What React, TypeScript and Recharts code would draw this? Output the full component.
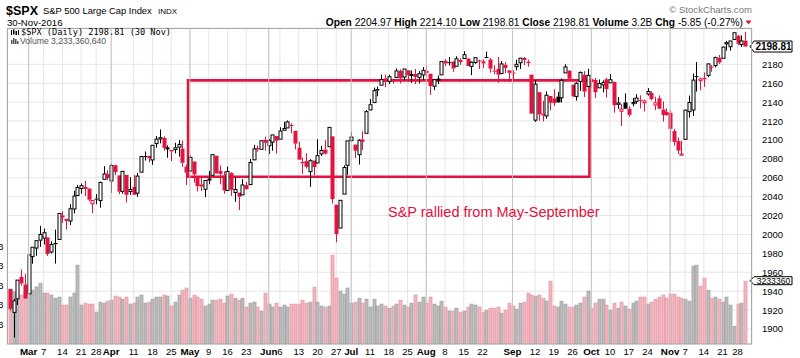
import React from "react";
import {
  ComposedChart,
  Bar,
  XAxis,
  YAxis,
  CartesianGrid,
  ReferenceLine,
  ReferenceArea,
} from "recharts";

// trading days per month, Feb..Nov 2016
const MONTH_DAYS = [
  [23, 24, 25, 26, 29],
  [1, 2, 3, 4, 7, 8, 9, 10, 11, 14, 15, 16, 17, 18, 21, 22, 23, 24, 28, 29, 30, 31],
  [1, 4, 5, 6, 7, 8, 11, 12, 13, 14, 15, 18, 19, 20, 21, 22, 25, 26, 27, 28, 29],
  [2, 3, 4, 5, 6, 9, 10, 11, 12, 13, 16, 17, 18, 19, 20, 23, 24, 25, 26, 27, 31],
  [1, 2, 3, 6, 7, 8, 9, 10, 13, 14, 15, 16, 17, 20, 21, 22, 23, 24, 27, 28, 29, 30],
  [1, 5, 6, 7, 8, 11, 12, 13, 14, 15, 18, 19, 20, 21, 22, 25, 26, 27, 28, 29],
  [1, 2, 3, 4, 5, 8, 9, 10, 11, 12, 15, 16, 17, 18, 19, 22, 23, 24, 25, 26, 29, 30, 31],
  [1, 2, 6, 7, 8, 9, 12, 13, 14, 15, 16, 19, 20, 21, 22, 23, 26, 27, 28, 29, 30],
  [3, 4, 5, 6, 7, 10, 11, 12, 13, 14, 17, 18, 19, 20, 21, 24, 25, 26, 27, 28, 31],
  [1, 2, 3, 4, 7, 8, 9, 10, 11, 14, 15, 16, 17, 18, 21, 22, 23, 25, 28, 29, 30],
];

const OPEN = [
  1942.4, 1917.6, 1931.9, 1955.0, 1947.1,
  1937.1, 1976.6, 1985.6, 1994.0, 1996.1, 1996.9, 1981.4, 1991.0, 1994.7, 2019.3, 2015.3, 2014.2, 2026.9, 2041.2, 2048.6, 2048.6, 2048.6, 2032.5, 2037.9, 2035.8, 2058.3, 2063.8,
  2056.6, 2073.2, 2062.5, 2045.6, 2063.0, 2045.5, 2050.2, 2043.7, 2065.9, 2082.9, 2083.1, 2078.8, 2096.1, 2101.0, 2102.1, 2091.5, 2089.4, 2089.8, 2092.3, 2090.9, 2071.8,
  2067.2, 2077.2, 2060.3, 2052.9, 2047.8, 2057.6, 2062.6, 2083.3, 2067.2, 2062.5, 2046.5, 2065.0, 2044.4, 2044.2, 2041.9, 2052.2, 2052.7, 2078.9, 2091.4, 2090.1, 2100.1,
  2093.9, 2097.7, 2104.1, 2100.8, 2110.2, 2112.7, 2115.7, 2109.6, 2091.8, 2076.7, 2077.6, 2066.4, 2078.2, 2075.6, 2085.2, 2089.8, 2092.8, 2103.8, 2031.5, 2006.7, 2042.7, 2073.2,
  2099.3, 2095.1, 2084.4, 2100.4, 2107.0, 2131.7, 2139.5, 2153.8, 2157.9, 2165.1, 2162.0, 2163.8, 2166.1, 2172.9, 2166.5, 2173.7, 2169.0, 2169.8, 2166.1, 2168.8,
  2173.2, 2169.9, 2156.8, 2163.5, 2168.8, 2183.8, 2182.2, 2182.8, 2178.0, 2183.7, 2186.1, 2186.2, 2177.8, 2181.9, 2184.2, 2181.6, 2187.8, 2185.1, 2173.3, 2175.1, 2170.2, 2179.5, 2173.6,
  2171.3, 2177.5, 2181.6, 2185.2, 2182.8, 2169.1, 2120.9, 2150.5, 2127.9, 2125.4, 2146.5, 2144.0, 2145.9, 2144.6, 2170.9, 2173.3, 2158.5, 2146.0, 2161.9, 2168.9, 2156.5,
  2164.3, 2163.4, 2155.1, 2158.2, 2164.2, 2160.4, 2161.4, 2137.7, 2130.3, 2139.7, 2133.0, 2138.3, 2140.8, 2142.5, 2139.4, 2148.5, 2149.7, 2137.0, 2144.1, 2132.2, 2129.8,
  2128.7, 2109.4, 2098.8, 2083.8, 2100.6, 2129.9, 2131.6, 2167.5, 2162.7, 2165.6, 2168.3, 2177.5, 2178.6, 2186.9, 2186.4, 2201.6, 2198.6, 2206.3, 2210.2, 2200.8, 2205.0,
];

const HIGH = [
  1942.4, 1932.1, 1951.8, 1963.0, 1958.3,
  1978.4, 1986.5, 1993.7, 2009.1, 2006.1, 1996.9, 1992.7, 2005.1, 2022.4, 2024.6, 2015.9, 2032.0, 2046.2, 2052.4, 2053.9, 2056.6, 2048.6, 2036.0, 2042.7, 2055.9, 2072.2, 2067.9,
  2075.1, 2074.0, 2062.5, 2067.3, 2063.0, 2060.6, 2062.9, 2065.1, 2083.2, 2087.8, 2083.2, 2094.7, 2104.1, 2111.1, 2103.8, 2094.3, 2089.4, 2096.9, 2099.9, 2099.3, 2073.9,
  2083.4, 2077.2, 2060.3, 2060.2, 2057.7, 2067.0, 2084.9, 2083.3, 2073.0, 2066.8, 2071.9, 2065.7, 2060.6, 2044.2, 2058.4, 2055.6, 2079.7, 2094.7, 2094.0, 2099.1, 2103.5,
  2101.0, 2105.3, 2104.1, 2113.4, 2119.2, 2120.6, 2117.6, 2109.6, 2098.1, 2081.3, 2085.7, 2079.6, 2078.2, 2100.7, 2093.7, 2099.7, 2113.3, 2103.8, 2031.5, 2036.1, 2073.1, 2098.9,
  2108.7, 2095.1, 2100.7, 2109.1, 2131.7, 2143.2, 2155.4, 2156.5, 2169.1, 2169.1, 2169.0, 2164.6, 2175.6, 2174.6, 2175.1, 2173.7, 2173.5, 2175.0, 2172.9, 2177.1,
  2178.3, 2170.2, 2163.8, 2168.2, 2182.9, 2185.4, 2187.7, 2183.4, 2188.5, 2186.3, 2193.8, 2186.2, 2183.1, 2187.0, 2185.0, 2185.2, 2193.4, 2186.7, 2179.0, 2187.9, 2183.5, 2182.3, 2173.8,
  2173.6, 2184.9, 2186.6, 2187.9, 2184.9, 2169.1, 2163.3, 2150.5, 2141.3, 2151.3, 2146.5, 2153.6, 2150.8, 2165.1, 2180.0, 2173.8, 2158.5, 2161.1, 2172.4, 2172.7, 2175.3,
  2164.4, 2165.5, 2164.0, 2162.9, 2165.9, 2169.6, 2161.6, 2145.4, 2138.2, 2149.2, 2135.6, 2144.4, 2148.4, 2147.2, 2142.6, 2154.8, 2151.4, 2145.7, 2147.1, 2140.7, 2133.3,
  2131.5, 2111.8, 2102.6, 2099.1, 2132.0, 2146.9, 2170.1, 2182.3, 2165.9, 2171.4, 2180.8, 2179.2, 2188.1, 2189.9, 2198.7, 2204.8, 2204.7, 2213.4, 2211.1, 2210.5, 2214.1,
];

const LOW = [
  1919.4, 1891.0, 1925.4, 1945.8, 1931.8,
  1937.1, 1969.0, 1977.4, 1986.8, 1989.4, 1977.4, 1979.8, 1969.2, 1994.7, 2012.1, 2005.2, 2010.0, 2022.2, 2041.2, 2043.1, 2040.6, 2034.9, 2022.5, 2032.0, 2028.3, 2058.3, 2057.5,
  2044.0, 2062.6, 2042.6, 2043.1, 2033.8, 2041.7, 2041.9, 2039.7, 2065.9, 2078.1, 2076.3, 2073.7, 2091.7, 2096.3, 2088.5, 2081.2, 2077.5, 2085.8, 2082.3, 2071.6, 2052.3,
  2066.1, 2054.9, 2045.6, 2045.8, 2039.5, 2053.1, 2062.6, 2064.5, 2053.1, 2043.1, 2046.5, 2040.8, 2034.5, 2025.9, 2041.9, 2047.3, 2052.7, 2078.9, 2087.6, 2090.1, 2088.7,
  2085.1, 2088.6, 2085.4, 2100.8, 2110.2, 2112.7, 2107.0, 2090.0, 2079.1, 2064.1, 2069.8, 2050.4, 2062.8, 2075.6, 2083.0, 2084.4, 2092.8, 2032.6, 1991.7, 2006.7, 2042.7, 2063.1,
  2097.9, 2080.9, 2074.0, 2089.4, 2107.0, 2131.7, 2139.5, 2146.2, 2157.9, 2155.8, 2159.1, 2159.6, 2166.1, 2159.8, 2163.2, 2161.1, 2160.2, 2159.1, 2159.7, 2163.5,
  2166.2, 2147.6, 2152.7, 2159.1, 2168.8, 2178.1, 2178.6, 2172.0, 2178.0, 2179.4, 2186.1, 2178.1, 2168.5, 2180.5, 2175.1, 2176.0, 2186.8, 2171.3, 2169.7, 2160.4, 2170.2, 2170.4, 2161.4,
  2161.1, 2173.6, 2175.1, 2179.1, 2177.5, 2127.8, 2119.1, 2120.3, 2119.6, 2122.4, 2131.2, 2135.9, 2139.2, 2139.6, 2170.9, 2164.0, 2145.0, 2141.6, 2151.8, 2145.2, 2156.5,
  2154.8, 2144.0, 2155.1, 2150.3, 2144.9, 2160.4, 2128.8, 2132.8, 2114.7, 2133.0, 2124.4, 2135.5, 2138.2, 2133.4, 2130.1, 2146.9, 2141.9, 2131.6, 2132.5, 2119.4, 2125.5,
  2097.9, 2094.0, 2085.2, 2083.8, 2100.6, 2123.6, 2125.4, 2151.2, 2152.5, 2156.1, 2166.4, 2172.2, 2176.7, 2180.4, 2186.4, 2194.5, 2194.5, 2206.3, 2200.4, 2198.2, 2198.8,
];

const CLOSE = [
  1921.3, 1929.8, 1951.7, 1948.1, 1932.2,
  1978.4, 1986.5, 1993.4, 2000.0, 2001.8, 1979.3, 1989.3, 1989.6, 2022.2, 2019.6, 2015.9, 2027.2, 2040.6, 2049.6, 2051.6, 2049.8, 2036.7, 2035.9, 2037.1, 2055.0, 2064.0, 2059.7,
  2072.8, 2066.1, 2045.2, 2066.7, 2041.9, 2047.6, 2042.0, 2061.7, 2082.4, 2082.8, 2080.7, 2094.3, 2100.8, 2102.4, 2091.5, 2091.6, 2087.8, 2091.7, 2095.2, 2075.8, 2065.3,
  2081.4, 2063.4, 2051.1, 2050.6, 2057.1, 2058.7, 2084.4, 2064.5, 2064.1, 2046.6, 2066.7, 2047.2, 2047.6, 2040.0, 2052.3, 2048.0, 2076.1, 2090.5, 2090.1, 2099.1, 2097.0,
  2099.3, 2105.3, 2099.1, 2109.4, 2112.1, 2119.1, 2115.5, 2096.1, 2079.1, 2075.3, 2071.5, 2078.0, 2071.2, 2083.3, 2088.9, 2085.5, 2113.3, 2037.4, 2000.5, 2036.1, 2070.8, 2098.9,
  2103.0, 2088.6, 2099.7, 2097.9, 2129.9, 2137.2, 2152.1, 2152.4, 2163.8, 2161.7, 2166.9, 2163.8, 2173.0, 2165.2, 2175.0, 2168.5, 2169.2, 2166.6, 2170.1, 2173.6,
  2170.8, 2157.0, 2163.8, 2164.3, 2182.9, 2180.9, 2181.7, 2175.5, 2185.8, 2184.1, 2190.2, 2178.2, 2182.2, 2187.0, 2183.9, 2182.6, 2186.9, 2175.4, 2172.5, 2169.0, 2180.4, 2176.1, 2171.0,
  2170.9, 2180.0, 2186.5, 2186.2, 2181.3, 2127.8, 2159.0, 2127.0, 2125.8, 2147.3, 2139.2, 2139.1, 2139.8, 2163.1, 2177.2, 2164.7, 2146.1, 2159.9, 2171.4, 2151.1, 2168.3,
  2161.2, 2150.5, 2159.7, 2160.8, 2153.7, 2163.7, 2136.7, 2139.2, 2132.6, 2133.0, 2126.5, 2139.6, 2144.3, 2141.3, 2141.2, 2151.3, 2143.2, 2139.4, 2133.0, 2126.4, 2126.2,
  2111.7, 2097.9, 2088.7, 2085.2, 2131.5, 2139.6, 2163.3, 2167.5, 2164.5, 2164.2, 2180.4, 2176.9, 2187.1, 2181.9, 2198.2, 2202.9, 2204.7, 2213.4, 2201.7, 2204.7, 2198.8,
];

// volume in billions
const VOLUME = [
  2.77, 2.69, 2.62, 2.52, 2.62,
  2.52, 2.77, 2.94, 3.13, 2.62, 2.62, 2.52, 2.36, 2.42, 2.01, 2.01, 2.42, 2.62, 4.05, 2.01, 2.11, 2.06, 2.06, 1.65, 2.16, 2.11, 2.21,
  2.26, 2.47, 2.42, 2.31, 2.42, 2.06, 2.11, 2.42, 2.52, 2.11, 2.16, 2.31, 2.42, 2.42, 2.52, 2.47, 1.96, 2.16, 2.52, 2.77, 2.88,
  2.36, 2.52, 2.42, 2.31, 1.96, 2.06, 2.26, 2.26, 2.31, 2.11, 2.47, 2.57, 2.36, 2.26, 2.36, 1.91, 2.11, 2.16, 1.91, 1.7, 2.62,
  2.06, 1.91, 2.11, 1.91, 2.01, 1.91, 2.06, 2.06, 2.06, 2.26, 2.11, 2.16, 2.93, 2.16, 1.96, 1.91, 1.96, 4.56, 3.39, 2.72, 2.57, 2.88,
  2.11, 2.16, 2.36, 2.11, 2.31, 1.91, 2.31, 1.96, 2.06, 1.96, 1.85, 1.96, 2.06, 2.26, 2.01, 1.91, 2.11, 2.52, 2.16, 2.42,
  2.11, 2.42, 2.06, 1.96, 2.21, 1.91, 1.7, 1.7, 1.85, 1.65, 1.7, 1.91, 2.06, 2.01, 1.91, 1.65, 1.75, 1.85, 1.85, 1.91, 1.6, 1.75, 2.11,
  1.96, 1.8, 2.11, 2.16, 2.62, 2.52, 2.47, 2.52, 2.36, 2.21, 3.23, 1.96, 1.91, 2.21, 2.06, 1.91, 1.91, 2.01, 2.11, 2.42, 2.72,
  1.85, 2.11, 2.31, 2.31, 2.01, 1.75, 2.11, 1.85, 2.16, 1.96, 1.8, 2.11, 2.21, 2.42, 2.42, 2.06, 2.16, 2.31, 2.42, 2.52, 2.36,
  2.57, 2.57, 2.42, 2.36, 2.31, 2.21, 4.0, 4.05, 2.98, 3.39, 2.77, 2.36, 2.42, 2.31, 2.16, 2.42, 2.01, 0.93, 2.06, 2.11, 3.23,
];

const PREV_CLOSE = 1945.5; // Feb 22 close, colours the first bar

// [date, label]; month names are bold
const X_TICKS: [string, string][] = [
  ["3/1", "Mar"], ["3/7", "7"], ["3/14", "14"], ["3/21", "21"], ["3/28", "28"],
  ["4/1", "Apr"], ["4/11", "11"], ["4/18", "18"], ["4/25", "25"],
  ["5/2", "May"], ["5/9", "9"], ["5/16", "16"], ["5/23", "23"],
  ["6/1", "Jun"], ["6/6", "6"], ["6/13", "13"], ["6/20", "20"], ["6/27", "27"],
  ["7/1", "Jul"], ["7/11", "11"], ["7/18", "18"], ["7/25", "25"],
  ["8/1", "Aug"], ["8/8", "8"], ["8/15", "15"], ["8/22", "22"],
  ["9/1", "Sep"], ["9/12", "12"], ["9/19", "19"], ["9/26", "26"],
  ["10/3", "Oct"], ["10/10", "10"], ["10/17", "17"], ["10/24", "24"],
  ["11/1", "Nov"], ["11/7", "7"], ["11/14", "14"], ["11/21", "21"], ["11/28", "28"],
];
const MONTH_NAMES = ["Mar", "Apr", "May", "Jun", "Jul", "Aug", "Sep", "Oct", "Nov"];

const PRICE_TICKS = [1900, 1920, 1940, 1960, 1980, 2000, 2020, 2040, 2060, 2080, 2100, 2120, 2140, 2160, 2180];
const VOLUME_TICKS = [1, 2, 3, 4, 5];
const LAST_PRICE = 2198.81;
const LAST_VOLUME = 3.23336064;

// highlighted box: May 2 .. Sep 30
const BOX = { from: "5/2", to: "9/30", low: 2061, high: 2163 };

const RED = "#e3123f";
const FONT = "'Liberation Sans', Arial, sans-serif";

const dates = MONTH_DAYS.flatMap((days, m) => days.map((d) => `${m + 2}/${d}`));
const data = dates.map((date, i) => ({
  i,
  date,
  o: OPEN[i],
  h: HIGH[i],
  l: LOW[i],
  c: CLOSE[i],
  v: VOLUME[i],
  up: CLOSE[i] >= (i ? CLOSE[i - 1] : PREV_CLOSE),
}));
const idx = (d: string) => dates.indexOf(d);
const tickIdx = X_TICKS.map(([d]) => idx(d));
const tickText: Record<number, string> = {};
X_TICKS.forEach(([d, t]) => (tickText[idx(d)] = t));
const monthIdx = X_TICKS.filter(([, t]) => MONTH_NAMES.includes(t)).map(([d]) => idx(d));

function Candle(props: any) {
  const { x, y, width, height, payload } = props;
  if (x == null || height == null) return null;
  const { o, h, l, c, up } = payload;
  const top = Math.min(y, y + height);
  const span = Math.abs(height);
  const py = (v: number) => (h === l ? top : top + ((h - v) / (h - l)) * span);
  const cx = Math.round(x + width / 2) + 0.5;
  const color = up ? "#000" : RED;
  const bTop = py(Math.max(o, c));
  const bBot = py(Math.min(o, c));
  const hollow = c > o;
  return (
    <g>
      <line x1={cx} x2={cx} y1={top} y2={bTop} stroke={color} strokeWidth={1} />
      <line x1={cx} x2={cx} y1={bBot} y2={top + span} stroke={color} strokeWidth={1} />
      {hollow ? (
        <rect x={cx - 1.5} y={bTop} width={3} height={Math.max(bBot - bTop, 1)} fill="#fff" stroke={color} strokeWidth={1} />
      ) : (
        <rect x={cx - 2} y={bTop} width={4} height={Math.max(bBot - bTop, 1)} fill={color} />
      )}
    </g>
  );
}

function VolBar(props: any) {
  const { x, y, width, height, payload } = props;
  if (x == null || !height) return null;
  const cx = Math.round(x + width / 2);
  return (
    <rect
      x={cx - 1}
      y={y + 0.5}
      width={3}
      height={height - 0.5}
      fill={payload.up ? "#bcbcbc" : "#f2b6be"}
      stroke={payload.up ? "#a2a2a2" : "#e59aa6"}
      strokeWidth={0.8}
    />
  );
}

function XTick(props: any) {
  const { x, payload } = props;
  const t = tickText[payload.value];
  const bold = MONTH_NAMES.includes(t);
  return (
    <text x={x} y={355} textAnchor="middle" fontSize={bold ? 9.8 : 9.5} fontWeight={bold ? 700 : 400} fill="#000" fontFamily={FONT}>
      {t}
    </text>
  );
}

function PriceTick(props: any) {
  const { x, y, payload } = props;
  return (
    <text x={x + 2} y={y + 3.5} textAnchor="start" fontSize={9.5} fill="#000" fontFamily={FONT}>
      {payload.value}
    </text>
  );
}

function VolTick(props: any) {
  const { y, payload } = props;
  return (
    <text x={3.5} y={y + 3.5} textAnchor="end" fontSize={9.5} fill="#000" fontFamily={FONT}>
      {payload.value.toFixed(1)}B
    </text>
  );
}

function Tag(props: any) {
  const { viewBox, text, bold, h } = props;
  if (!viewBox) return null;
  const x0 = viewBox.x + viewBox.width;
  const yc = viewBox.y;
  const hh = h / 2;
  return (
    <g>
      <path
        d={`M${x0 - 2},${yc} L${x0 + 2},${yc - hh} L${x0 + 40},${yc - hh} L${x0 + 40},${yc + hh} L${x0 + 2},${yc + hh} Z`}
        fill="#fff"
        stroke="#000"
        strokeWidth={1}
      />
      <text x={x0 + 21.5} y={yc + (bold ? 3.6 : 3)} textAnchor="middle" fontSize={bold ? 10 : 8.6} fontWeight={bold ? 700 : 400} fill="#000" fontFamily={FONT}>
        {text}
      </text>
    </g>
  );
}

export default function App() {
  return (
    <div style={{ position: "absolute", left: 0, top: 0, width: 800, height: 358, background: "#fff", fontFamily: FONT }}>
      <ComposedChart width={800} height={358} data={data} margin={{ top: 28, right: 0, bottom: 0, left: 0 }}>
        <CartesianGrid xAxisId={0} yAxisId="price" stroke="#e6e6e6" strokeWidth={1} />
        <XAxis
          dataKey="i"
          type="category"
          ticks={tickIdx}
          interval={0}
          tick={<XTick />}
          tickLine={false}
          axisLine={false}
          height={14}
          padding={{ left: 1, right: 5 }}
        />
        <XAxis xAxisId="vol" dataKey="i" type="category" hide padding={{ left: 1, right: 5 }} />
        <YAxis
          yAxisId="price"
          orientation="right"
          width={48}
          domain={[1884.1, 2218.4]}
          ticks={PRICE_TICKS}
          interval={0}
          tick={<PriceTick />}
          tickLine={false}
          axisLine={false}
          allowDataOverflow
        />
        <YAxis
          yAxisId="vol"
          orientation="left"
          width={7}
          domain={[0, 16.14]}
          ticks={VOLUME_TICKS}
          interval={0}
          tick={<VolTick />}
          tickLine={false}
          axisLine={false}
          allowDataOverflow
        />
        {monthIdx.map((m) => (
          <ReferenceLine key={m} x={m} yAxisId="price" stroke="#c4c4c4" strokeWidth={1} />
        ))}
        <Bar xAxisId="vol" yAxisId="vol" dataKey="v" shape={<VolBar />} isAnimationActive={false} />
        <Bar yAxisId="price" dataKey={(d: any) => [d.l, d.h]} shape={<Candle />} isAnimationActive={false} />
        <ReferenceArea
          yAxisId="price"
          x1={idx(BOX.from)}
          x2={idx(BOX.to)}
          y1={BOX.low}
          y2={BOX.high}
          fill="none"
          fillOpacity={0}
          stroke={RED}
          strokeWidth={2.6}
          ifOverflow="visible"
        />
        <ReferenceLine yAxisId="price" y={LAST_PRICE} stroke="none" label={<Tag text="2198.81" bold h={11} />} />
        <ReferenceLine xAxisId="vol" yAxisId="vol" y={LAST_VOLUME} stroke="none" label={<Tag text="3233360" h={8} />} />
      </ComposedChart>

      <svg width={800} height={358} style={{ position: "absolute", left: 0, top: 0, pointerEvents: "none" }}>
        <rect x={7.5} y={28.5} width={744} height={315.5} fill="none" stroke="#a8a8a8" strokeWidth={1} />
        <text x={6} y={15} fontSize={12.5} fontWeight={700} fontFamily={FONT} fill="#000">$SPX</text>
        <text x={43} y={14} fontSize={9.4} fontFamily={FONT} fill="#000">S&amp;P 500 Large Cap Index</text>
        <text x={158} y={14} fontSize={8} fontFamily={FONT} fill="#000">INDX</text>
        <text x={7} y={25.5} fontSize={9.6} fontFamily={FONT} fill="#000">30-Nov-2016</text>
        <text x={752} y={13} textAnchor="end" fontSize={9.6} fontFamily={FONT} fill="#777">© StockCharts.com</text>
        <text x={743} y={26} textAnchor="end" fontSize={10.2} fontFamily={FONT} fill="#000">
          <tspan fontWeight={700}>Open</tspan> 2204.97 <tspan fontWeight={700}>High</tspan> 2214.10{" "}
          <tspan fontWeight={700}>Low</tspan> 2198.81 <tspan fontWeight={700}>Close</tspan> 2198.81{" "}
          <tspan fontWeight={700}>Volume</tspan> 3.2B <tspan fontWeight={700}>Chg</tspan> -5.85 (-0.27%)
        </text>
        <path d="M745.5,20.5 L751.5,20.5 L748.5,24.5 Z" fill={RED} />
        <g fill="#000">
          <rect x={11} y={30} width={1} height={5} />
          <rect x={13} y={29.5} width={1.5} height={5} />
          <rect x={15.5} y={31} width={1.5} height={4} />
          <rect x={18} y={30} width={1} height={5} />
        </g>
        <text x={21} y={34.5} fontSize={8.6} fontFamily="'DejaVu Sans Mono', monospace" fill="#000">
          $SPX (Daily) 2198.81 (30 Nov)
        </text>
        <g fill="#555">
          <rect x={11} y={40} width={1.5} height={4} />
          <rect x={13} y={38} width={1.5} height={6} />
          <rect x={15} y={39} width={1.5} height={5} />
          <rect x={17} y={41} width={1.5} height={3} />
        </g>
        <text x={20} y={43.5} fontSize={8.6} fontFamily={FONT} fill="#555">Volume 3,233,360,640</text>
        <text x={388} y={217} fontSize={14.5} fontFamily={FONT} fill={RED}>S&amp;P rallied from May-September</text>
      </svg>
    </div>
  );
}
